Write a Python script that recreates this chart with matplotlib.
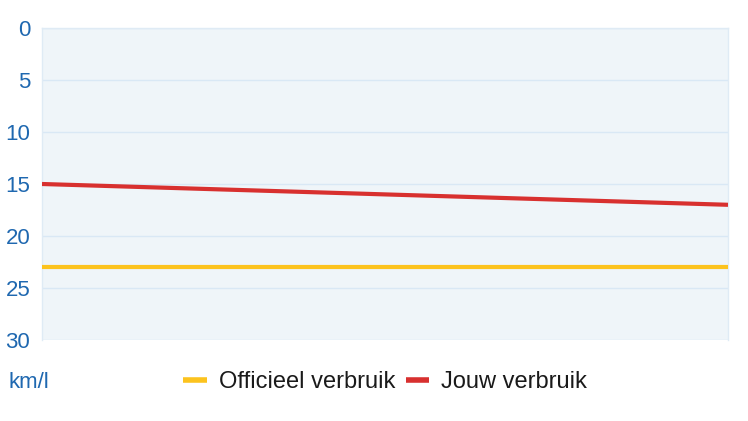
import matplotlib.pyplot as plt

plt.rcParams['font.family'] = ['Liberation Sans', 'DejaVu Sans']

x = [0, 1]
officieel = [23, 23]
jouw = [15, 17]
yticks = [0, 5, 10, 15, 20, 25, 30]

blue = '#1f68b0'

fig = plt.figure(figsize=(7.48, 4.21), dpi=100)
ax = fig.add_axes([42 / 748, 1 - 340 / 421, 686 / 748, 312 / 421])
ax.set_facecolor('#eff5f9')

ax.plot(x, officieel, color='#fcc31e', lw=3, solid_capstyle='butt', label='Officieel verbruik', zorder=3)
ax.plot(x, jouw, color='#d8302f', lw=3, solid_capstyle='butt', label='Jouw verbruik', zorder=3)

ax.set_xlim(0, 1)
ax.set_ylim(30, 0)
ax.set_yticks(yticks)
ax.set_xticks([])
ax.grid(axis='y', color='#d9e8f5', lw=1)
ax.tick_params(axis='y', length=0, pad=8.5, labelsize=16, labelcolor=blue)
for s in ax.spines.values():
    s.set_color('#dfebf5')
    s.set_linewidth(1)
ax.spines['bottom'].set_visible(False)

fig.text(8 / 748, 1 - 382 / 421, 'km/l', color=blue, fontsize=16, va='center', ha='left')

leg = fig.legend(loc='center', bbox_to_anchor=(385 / 748, 1 - 382 / 421), ncol=2, frameon=False,
                 fontsize=17, handlelength=1.0, handletextpad=0.5, columnspacing=0.45,
                 labelcolor='#1a1a1a')
for h in leg.get_lines():
    h.set_linewidth(4)

fig.savefig('out.png', dpi=100)
